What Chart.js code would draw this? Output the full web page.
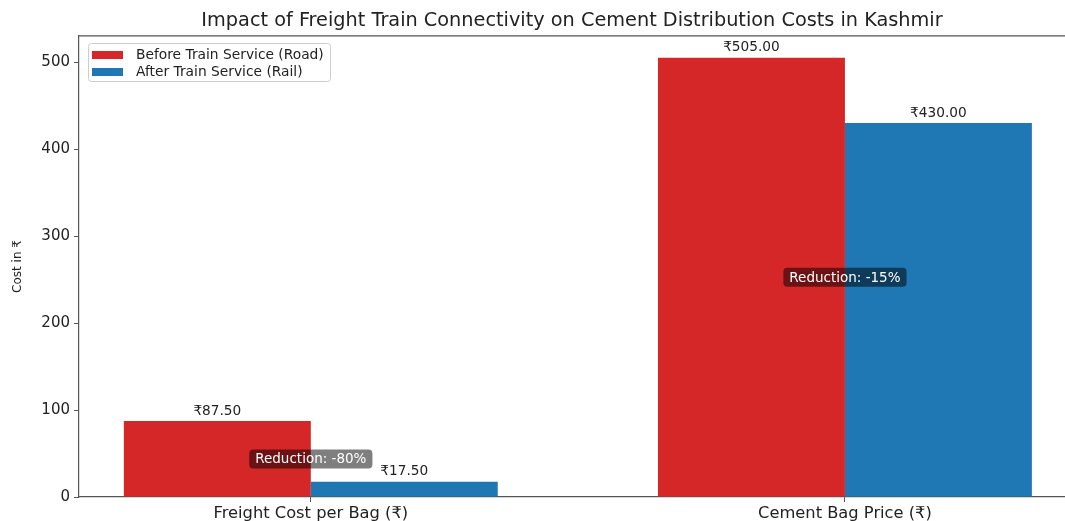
<!DOCTYPE html>
<html>
<head>
<meta charset="utf-8">
<script src="https://cdn.jsdelivr.net/npm/chart.js@4"></script>
<style>
html,body{margin:0;padding:0;background:#fff;}
#wrap{width:1065px;height:521px;}
</style>
</head>
<body>
<div id="wrap"><canvas id="c" width="1065" height="521"></canvas></div>
<script>
const chartTitle = 'Impact of Freight Train Connectivity on Cement Distribution Costs in Kashmir';
const categories = ['Freight Cost per Bag (₹)', 'Cement Bag Price (₹)'];
const seriesNames = ['Before Train Service (Road)', 'After Train Service (Rail)'];
const beforeValues = [87.5, 505];
const afterValues = [17.5, 430];
const yTicks = [0, 100, 200, 300, 400, 500];
const yAxisTitle = 'Cost in ₹';

const FONT = "'DejaVu Sans', 'Noto Sans', sans-serif";
const RED = '#d62728', BLUE = '#1f77b4';

const valueLabels = {
  id: 'valueLabels',
  afterDatasetsDraw(chart) {
    const ctx = chart.ctx;
    ctx.save();
    ctx.font = '13.7px ' + FONT;
    ctx.fillStyle = '#222';
    ctx.textAlign = 'center';
    ctx.textBaseline = 'bottom';
    chart.data.datasets.forEach((ds, i) => {
      chart.getDatasetMeta(i).data.forEach((bar, j) => {
        ctx.fillText('₹' + ds.data[j].y.toFixed(2), bar.x, bar.y - 3);
      });
    });
    // reduction annotations
    const xs = chart.scales.x, ys = chart.scales.y;
    ctx.font = '13.5px ' + FONT;
    categories.forEach((c, j) => {
      const pct = Math.round((afterValues[j] - beforeValues[j]) / beforeValues[j] * 100);
      const txt = 'Reduction: ' + pct + '%';
      const cx = xs.getPixelForValue(j);
      const cy = ys.getPixelForValue(beforeValues[j] / 2);
      const w = ctx.measureText(txt).width + 12, h = 19;
      ctx.fillStyle = 'rgba(0,0,0,0.5)';
      ctx.beginPath();
      ctx.roundRect(cx - w / 2, cy - h / 2, w, h, 4);
      ctx.fill();
      ctx.fillStyle = '#fff';
      ctx.textBaseline = 'middle';
      ctx.fillText(txt, cx, cy + 1);
    });
    // top spine
    const a = chart.chartArea;
    ctx.strokeStyle = '#555';
    ctx.lineWidth = 1.2;
    ctx.beginPath();
    ctx.moveTo(a.left, a.top);
    ctx.lineTo(a.right, a.top);
    ctx.stroke();
    // legend
    const lx = 88, ly = 43, lw = 242, lh = 38;
    ctx.fillStyle = 'rgba(255,255,255,0.8)';
    ctx.strokeStyle = '#ccc';
    ctx.lineWidth = 1;
    ctx.beginPath();
    ctx.roundRect(lx + 0.5, ly + 0.5, lw, lh, 3);
    ctx.fill();
    ctx.stroke();
    ctx.font = '13.8px ' + FONT;
    ctx.textAlign = 'left';
    ctx.textBaseline = 'middle';
    chart.data.datasets.forEach((ds, i) => {
      const yy = ly + 12 + i * 17;
      ctx.fillStyle = ds.backgroundColor;
      ctx.fillRect(lx + 4, yy - 4, 31, 8);
      ctx.fillStyle = '#222';
      ctx.fillText(ds.label, lx + 48, yy);
    });
    ctx.restore();
  }
};

new Chart(document.getElementById('c'), {
  type: 'bar',
  data: {
    datasets: [
      { label: seriesNames[0], data: beforeValues.map((v, i) => ({ x: i, y: v })), backgroundColor: RED },
      { label: seriesNames[1], data: afterValues.map((v, i) => ({ x: i, y: v })), backgroundColor: BLUE }
    ]
  },
  options: {
    responsive: false,
    animation: false,
    devicePixelRatio: 1,
    categoryPercentage: 0.7,
    barPercentage: 1.0,
    layout: { padding: { left: 0, right: 0, top: 0, bottom: 0 } },
    plugins: {
      legend: { display: false },
      tooltip: { enabled: false },
      title: {
        display: true,
        fullSize: false,
        text: chartTitle,
        color: '#222',
        font: { family: FONT, size: 19.3, weight: 'normal', lineHeight: 1.2 },
        padding: { top: 9.5, bottom: 3.3 }
      }
    },
    scales: {
      x: {
        type: 'linear',
        offset: false,
        min: -0.434,
        max: 1.412,
        afterBuildTicks(s) { s.ticks = categories.map((c, i) => ({ value: i })); },
        afterFit(s) { s.height = 24; },
        ticks: {
          autoSkip: false,
          maxRotation: 0,
          padding: 2,
          color: '#222',
          font: { family: FONT, size: 16.3 },
          callback: (v) => categories[v]
        },
        grid: { offset: false, drawOnChartArea: false, drawTicks: true, tickLength: 5, color: '#555' },
        border: { display: true, color: '#555', width: 1.2 }
      },
      y: {
        min: 0,
        max: 530,
        afterBuildTicks(s) { s.ticks = yTicks.map(v => ({ value: v })); },
        afterFit(s) { s.width = 79; },
        ticks: {
          color: '#222',
          padding: 4,
          font: { family: FONT, size: 15 }
        },
        title: {
          display: true,
          text: yAxisTitle,
          color: '#222',
          font: { family: FONT, size: 12 },
          padding: { top: 11, bottom: 0 }
        },
        grid: { drawOnChartArea: false, drawTicks: true, tickLength: 5, color: '#555' },
        border: { display: true, color: '#555', width: 1.2 }
      }
    }
  },
  plugins: [valueLabels]
});
</script>
</body>
</html>
